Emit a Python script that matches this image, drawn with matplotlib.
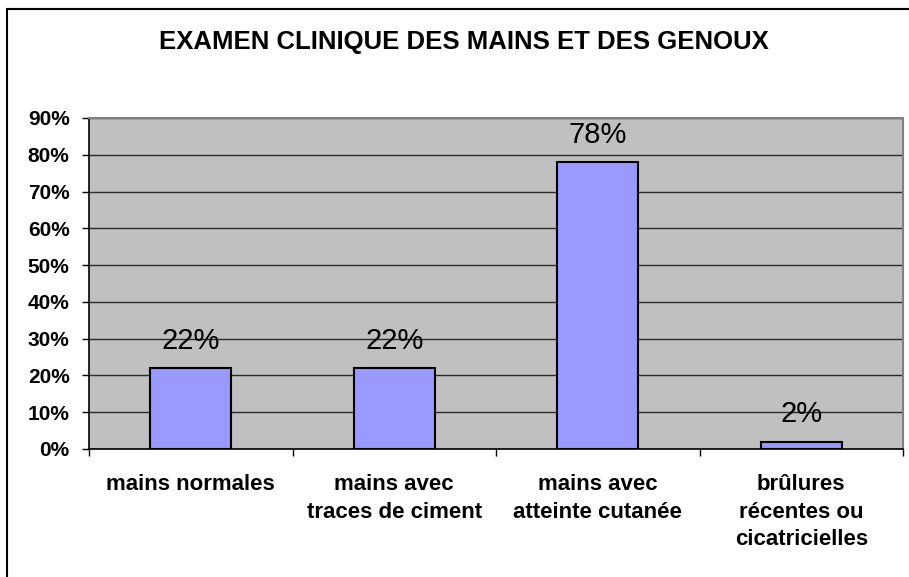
import matplotlib.pyplot as plt
from matplotlib.patches import Rectangle
from matplotlib.ticker import FuncFormatter

plt.rcParams['font.family'] = ['Liberation Sans', 'DejaVu Sans']

# données
categories = ["mains normales", "mains avec\ntraces de ciment",
              "mains avec\natteinte cutanée", "brûlures\nrécentes ou\ncicatricielles"]
values = [22, 22, 78, 2]          # en %
labels = ["22%", "22%", "78%", "2%"]
y_ticks = [0, 10, 20, 30, 40, 50, 60, 70, 80, 90]

fig = plt.figure(figsize=(9.09, 5.77), dpi=100)
ax = fig.add_axes([89 / 909, 1 - 449 / 577, (903 - 89) / 909, (449 - 118) / 577])

# cadre extérieur (seuls le haut et la gauche sont visibles)
fig.patches.append(Rectangle((6.5 / 909, -0.2), 1.2, 1.2 - 9 / 577,
                             transform=fig.transFigure, fill=False,
                             edgecolor='black', linewidth=1.5))

ax.set_facecolor('#C0C0C0')
x = range(len(categories))
ax.bar(x, values, width=0.40, color='#9999FF', edgecolor='black',
       linewidth=1.5, zorder=3)

for xi, v, lab in zip(x, values, labels):
    ax.annotate(lab, (xi, v), xytext=(0, 14), textcoords='offset points',
                ha='center', va='baseline', fontsize=21, zorder=4)

ax.set_xlim(-0.5, len(categories) - 0.5)
ax.set_ylim(0, 90)
ax.set_yticks(y_ticks)
ax.yaxis.set_major_formatter(FuncFormatter(lambda v, p: f"{v:.0f}%"))
ax.yaxis.grid(True, color='#2a2a2a', linewidth=1.0, zorder=1)
ax.set_axisbelow(True)

ax.set_xticks([i + 0.5 for i in range(len(categories) - 1)] + [-0.5, len(categories) - 0.5])
ax.set_xticklabels([])
ax.set_xticks(list(x), minor=True)
ax.set_xticklabels(categories, minor=True, fontsize=16, fontweight='bold',
                   linespacing=1.42)
ax.tick_params(axis='x', which='major', length=5, width=1, direction='out')
ax.tick_params(axis='x', which='minor', length=0, pad=18)
ax.tick_params(axis='y', length=5, width=1, direction='out', pad=9)
for t in ax.get_yticklabels():
    t.set_fontsize(15)
    t.set_fontweight('bold')

ax.spines['left'].set_color('black')
ax.spines['bottom'].set_color('black')
ax.spines['left'].set_linewidth(1.2)
ax.spines['bottom'].set_linewidth(1.2)
ax.spines['top'].set_color('#808080')
ax.spines['right'].set_color('#808080')
ax.spines['top'].set_linewidth(1.5)
ax.spines['right'].set_linewidth(1.5)

fig.text(464 / 909, 1 - 42 / 577, "EXAMEN CLINIQUE DES MAINS ET DES GENOUX",
         ha='center', va='center', fontsize=18.5, fontweight='bold')

fig.savefig("out.png", dpi=100)
